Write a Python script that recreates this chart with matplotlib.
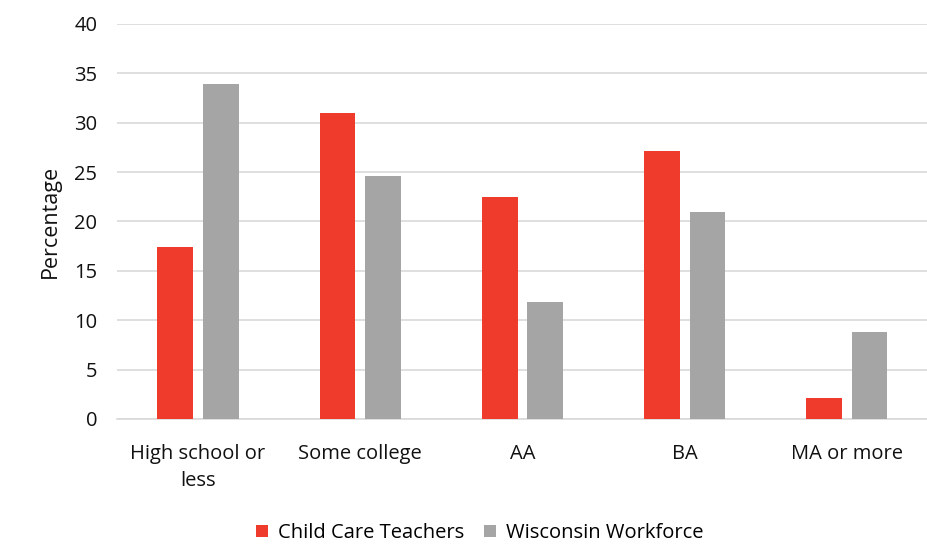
import matplotlib.pyplot as plt
import numpy as np

# chart data
categories = ["High school or\nless", "Some college", "AA", "BA", "MA or more"]
child_care = [17.4, 31.0, 22.5, 27.1, 2.1]
wisconsin = [33.9, 24.6, 11.85, 21.0, 8.8]

plt.rcParams['font.family'] = ['Open Sans', 'DejaVu Sans']

fig = plt.figure(figsize=(9.28, 5.44), dpi=100)
ax = fig.add_axes([0.126, 0.2298, 0.874, 0.7261])

x = np.arange(len(categories))
width = 0.22
ax.bar(x - 0.14, child_care, width, color="#ee3b2c", label="Child Care Teachers", zorder=3)
ax.bar(x + 0.14, wisconsin, width, color="#a5a5a5", label="Wisconsin Workforce", zorder=3)

ax.set_xlim(-0.5, 4.5)
ax.set_ylim(0, 40)
ax.set_yticks(range(0, 41, 5))
ax.set_xticks(x)
ax.set_xticklabels(categories, fontsize=14.5, color="#111111", linespacing=1.5)
ax.tick_params(axis="y", labelsize=14.5, colors="#111111", length=0, pad=14)
ax.tick_params(axis="x", length=0, pad=18)
ax.yaxis.grid(True, color="#d9d9d9", linewidth=1.2, zorder=0)
for side in ["top", "right", "left"]:
    ax.spines[side].set_visible(False)
ax.spines["bottom"].set_color("#d9d9d9")
ax.spines["bottom"].set_linewidth(1.2)
ax.set_ylabel("Percentage", fontsize=15.5, color="#111111", labelpad=10)

fig.legend(loc="center", bbox_to_anchor=(0.517, 0.02), ncol=2, frameon=False,
           fontsize=14.5, handlelength=0.6, handleheight=0.6, columnspacing=1.0,
           handletextpad=0.5)

fig.savefig("out.png", dpi=100)
